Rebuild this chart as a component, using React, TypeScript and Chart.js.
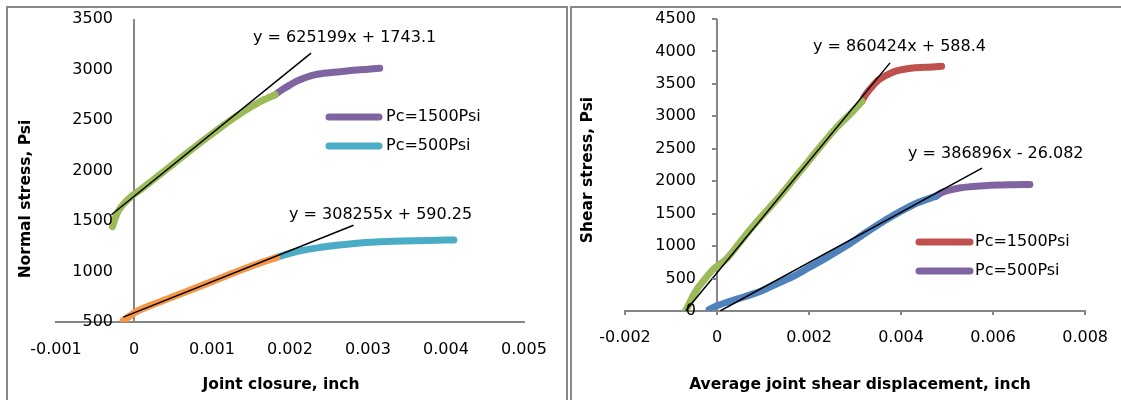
import { useEffect, useRef } from "react";
import { Chart, registerables } from "chart.js";

Chart.register(...registerables);

// ---------- Left chart: Normal stress vs joint closure ----------
const closureTicks = [-0.001, 0, 0.001, 0.002, 0.003, 0.004, 0.005];
const closureTickLabels = ["-0.001", "0", "0.001", "0.002", "0.003", "0.004", "0.005"];
const normalTicks = [500, 1000, 1500, 2000, 2500, 3000, 3500];
const normalTickLabels = ["500", "1000", "1500", "2000", "2500", "3000", "3500"];

const normal1500FitX = [-0.000276, -0.00024, -0.0002, -0.00012, -0.00003, 0.0001, 0.0003, 0.0005, 0.0007, 0.0009, 0.0011, 0.0013, 0.0015, 0.0016, 0.0017, 0.00181];
const normal1500FitY = [1444, 1530, 1600, 1680, 1745, 1820, 1940, 2062, 2185, 2305, 2420, 2530, 2630, 2675, 2712, 2750];
const normal1500PlateauX = [0.00181, 0.0019, 0.002, 0.0021, 0.00221, 0.0023, 0.00243, 0.00255, 0.00264, 0.00275, 0.00286, 0.003, 0.00315];
const normal1500PlateauY = [2750, 2800, 2847, 2890, 2923, 2945, 2962, 2972, 2978, 2987, 2995, 3003, 3012];

const normal500FitX = [-0.000138, -0.00006, 0, 0.0003, 0.0006, 0.0009, 0.0012, 0.0015, 0.00183];
const normal500FitY = [515, 555, 590, 690, 780, 870, 962, 1052, 1140];
const normal500PlateauX = [0.00183, 0.002, 0.00213, 0.0024, 0.0026, 0.00286, 0.0031, 0.00332, 0.0036, 0.00378, 0.0041];
const normal500PlateauY = [1140, 1180, 1205, 1240, 1260, 1280, 1292, 1299, 1305, 1308, 1312];

const normalTrend1500X = [-0.00029, 0.00227];
const normalTrend1500Y = [1562, 3162];
const normalTrend500X = [-0.000137, 0.002815];
const normalTrend500Y = [548, 1458];

const normalEquations = ["y = 625199x + 1743.1", "y = 308255x + 590.25"];
const normalLegend = ["Pc=1500Psi", "Pc=500Psi"];

// ---------- Right chart: Shear stress vs shear displacement ----------
const shearDispTicks = [-0.002, 0, 0.002, 0.004, 0.006, 0.008];
const shearDispTickLabels = ["-0.002", "0", "0.002", "0.004", "0.006", "0.008"];
const shearTicks = [0, 500, 1000, 1500, 2000, 2500, 3000, 3500, 4000, 4500];
const shearTickLabels = ["0", "500", "1000", "1500", "2000", "2500", "3000", "3500", "4000", "4500"];

const shear1500FitX = [-0.00068, -0.00062, -0.00053, -0.00042, -0.0003, -0.0001, 0.0002, 0.0005, 0.0008, 0.0011, 0.0014, 0.0017, 0.002, 0.0023, 0.0026, 0.0029, 0.00315];
const shear1500FitY = [10, 90, 220, 350, 460, 630, 800, 1060, 1320, 1560, 1800, 2060, 2320, 2580, 2830, 3040, 3230];
const shear1500PlateauX = [0.00315, 0.0032, 0.0033, 0.0034, 0.0035, 0.0037, 0.0039, 0.0041, 0.0043, 0.0045, 0.0047, 0.00488];
const shear1500PlateauY = [3230, 3300, 3400, 3480, 3555, 3640, 3700, 3730, 3750, 3755, 3760, 3770];

const shear500FitX = [-0.00017, 0, 0.00026, 0.0006, 0.001, 0.0013, 0.0017, 0.002, 0.0024, 0.0028, 0.0032, 0.0035, 0.0039, 0.0043, 0.00476];
const shear500FitY = [25, 80, 145, 220, 320, 420, 550, 670, 830, 1000, 1190, 1330, 1500, 1650, 1770];
const shear500PlateauX = [0.00476, 0.0049, 0.0051, 0.0053, 0.0055, 0.0058, 0.0061, 0.0064, 0.0068];
const shear500PlateauY = [1770, 1830, 1870, 1900, 1915, 1930, 1940, 1945, 1950];

const shearTrend1500X = [-0.00068, 0.00376];
const shearTrend1500Y = [3, 3824];
const shearTrend500X = [0.0000674, 0.00576];
const shearTrend500Y = [0, 2202];

const shearEquations = ["y = 860424x + 588.4", "y = 386896x - 26.082"];
const shearLegend = ["Pc=1500Psi", "Pc=500Psi"];

// ---------- styles ----------
const FONT = "'DejaVu Sans', 'Liberation Sans', sans-serif";
const AXIS_GRAY = "#868686";
const BORDER_GRAY = "#898989";
const GREEN = "#9BBB59";
const PURPLE = "#8064A2";
const ORANGE = "#F79646";
const TEAL = "#4BACC6";
const RED = "#C0504D";
const BLUE = "#4F81BD";

const pts = (xs: number[], ys: number[]) => xs.map((x, i) => ({ x, y: ys[i] }));

function curve(xs: number[], ys: number[], color: string, order: number) {
  return {
    data: pts(xs, ys),
    borderColor: color,
    backgroundColor: color,
    borderWidth: 7,
    borderCapStyle: "round",
    borderJoinStyle: "round",
    cubicInterpolationMode: "monotone",
    showLine: true,
    pointRadius: 0,
    order,
  };
}

function trend(xs: number[], ys: number[]) {
  return {
    data: pts(xs, ys),
    borderColor: "#000000",
    backgroundColor: "#000000",
    borderWidth: 1.5,
    showLine: true,
    pointRadius: 0,
    order: 0,
  };
}

type Panel = {
  canvasLeft: number;
  width: number;
  area: { left: number; right: number; top: number; bottom: number };
  xMin: number; xMax: number; yMin: number; yMax: number;
  xTicks: number[]; xTickLabels: string[];
  yTicks: number[]; yTickLabels: string[];
  xTickMarks: boolean; yTickMarks: boolean; xLabelPad: number;
  xTitle: string; xTitleX: number; xTitleY: number;
  yTitle: string; yTitleX: number; yTitleY: number;
  datasets: any[];
  legend: { label: string; color: string; y: number }[];
  legendX1: number; legendX2: number; legendTextX: number;
  equations: { text: string; x: number; y: number }[];
};

const leftPanel: Panel = {
  canvasLeft: 0,
  width: 566,
  area: { left: 56, right: 524, top: 19, bottom: 322 },
  xMin: -0.001, xMax: 0.005, yMin: 500, yMax: 3500,
  xTicks: closureTicks, xTickLabels: closureTickLabels,
  yTicks: normalTicks, yTickLabels: normalTickLabels,
  xTickMarks: false, yTickMarks: false, xLabelPad: 18,
  xTitle: "Joint closure, inch", xTitleX: 281, xTitleY: 385,
  yTitle: "Normal stress, Psi", yTitleX: 26, yTitleY: 199,
  datasets: [
    trend(normalTrend1500X, normalTrend1500Y),
    trend(normalTrend500X, normalTrend500Y),
    curve(normal1500FitX, normal1500FitY, GREEN, 1),
    curve(normal500FitX, normal500FitY, ORANGE, 1),
    curve(normal1500PlateauX, normal1500PlateauY, PURPLE, 2),
    curve(normal500PlateauX, normal500PlateauY, TEAL, 2),
  ],
  legend: [
    { label: normalLegend[0], color: PURPLE, y: 117 },
    { label: normalLegend[1], color: TEAL, y: 146 },
  ],
  legendX1: 329, legendX2: 379, legendTextX: 386,
  equations: [
    { text: normalEquations[0], x: 253, y: 38 },
    { text: normalEquations[1], x: 289, y: 215 },
  ],
};

const rightPanel: Panel = {
  canvasLeft: 570,
  width: 551,
  area: { left: 625, right: 1090, top: 19, bottom: 311 },
  xMin: -0.002, xMax: 0.008, yMin: 0, yMax: 4500,
  xTicks: shearDispTicks, xTickLabels: shearDispTickLabels,
  yTicks: shearTicks, yTickLabels: shearTickLabels,
  xTickMarks: true, yTickMarks: true, xLabelPad: 13,
  xTitle: "Average joint shear displacement, inch", xTitleX: 860, xTitleY: 385,
  yTitle: "Shear stress, Psi", yTitleX: 588, yTitleY: 170,
  datasets: [
    trend(shearTrend1500X, shearTrend1500Y),
    trend(shearTrend500X, shearTrend500Y),
    curve(shear1500FitX, shear1500FitY, GREEN, 1),
    curve(shear500FitX, shear500FitY, BLUE, 1),
    curve(shear1500PlateauX, shear1500PlateauY, RED, 2),
    curve(shear500PlateauX, shear500PlateauY, PURPLE, 2),
  ],
  legend: [
    { label: shearLegend[0], color: RED, y: 242 },
    { label: shearLegend[1], color: PURPLE, y: 271 },
  ],
  legendX1: 919, legendX2: 970, legendTextX: 975,
  equations: [
    { text: shearEquations[0], x: 813, y: 47 },
    { text: shearEquations[1], x: 908, y: 154 },
  ],
};

function overlayPlugin(p: Panel) {
  return {
    id: "overlay",
    afterDraw(chart: any) {
      const ctx = chart.ctx as CanvasRenderingContext2D;
      const xs = chart.scales.x;
      const ys = chart.scales.y;
      const off = p.canvasLeft;
      const x0 = xs.getPixelForValue(0);
      ctx.save();
      // y tick marks
      if (p.yTickMarks) {
        ctx.strokeStyle = AXIS_GRAY;
        ctx.lineWidth = 2;
        p.yTicks.forEach((v) => {
          const y = Math.round(ys.getPixelForValue(v));
          ctx.beginPath();
          ctx.moveTo(x0 - 5, y);
          ctx.lineTo(x0, y);
          ctx.stroke();
        });
      }
      // y tick labels next to the vertical axis at x = 0
      ctx.fillStyle = "#000";
      ctx.font = `16px ${FONT}`;
      ctx.textAlign = "right";
      ctx.textBaseline = "middle";
      p.yTicks.forEach((v, i) => {
        ctx.fillText(p.yTickLabels[i], x0 - 21, ys.getPixelForValue(v));
      });
      // legend
      p.legend.forEach((l) => {
        ctx.strokeStyle = l.color;
        ctx.lineWidth = 7;
        ctx.lineCap = "round";
        ctx.beginPath();
        ctx.moveTo(p.legendX1 - off, l.y);
        ctx.lineTo(p.legendX2 - off, l.y);
        ctx.stroke();
        ctx.fillStyle = "#000";
        ctx.textAlign = "left";
        ctx.textBaseline = "middle";
        ctx.font = `16px ${FONT}`;
        ctx.fillText(l.label, p.legendTextX - off, l.y);
      });
      // trendline equations
      ctx.textAlign = "left";
      ctx.textBaseline = "middle";
      ctx.font = `16px ${FONT}`;
      p.equations.forEach((e) => ctx.fillText(e.text, e.x - off, e.y));
      // axis titles
      ctx.font = `bold 15.5px ${FONT}`;
      ctx.textAlign = "center";
      ctx.fillText(p.xTitle, p.xTitleX - off, p.xTitleY);
      ctx.translate(p.yTitleX - off, p.yTitleY);
      ctx.rotate(-Math.PI / 2);
      ctx.fillText(p.yTitle, 0, 0);
      ctx.restore();
    },
  };
}

function buildConfig(p: Panel): any {
  const a = p.area;
  return {
    type: "scatter",
    data: { datasets: p.datasets },
    options: {
      animation: false,
      responsive: false,
      devicePixelRatio: 1,
      events: [],
      layout: {
        padding: {
          left: a.left - p.canvasLeft,
          right: p.canvasLeft + p.width - a.right,
          top: a.top,
          bottom: 0,
        },
      },
      plugins: { legend: { display: false }, tooltip: { enabled: false }, title: { display: false } },
      scales: {
        x: {
          type: "linear",
          position: "bottom",
          min: p.xMin,
          max: p.xMax,
          afterBuildTicks: (s: any) => {
            s.ticks = p.xTicks.map((v) => ({ value: v }));
          },
          afterFit: (s: any) => {
            s.height = 400 - a.bottom;
          },
          grid: {
            display: true,
            drawOnChartArea: true,
            color: (c: any) => (c.tick && c.tick.value === 0 ? AXIS_GRAY : "rgba(0,0,0,0)"),
            lineWidth: 2,
            drawTicks: p.xTickMarks,
            tickLength: 4,
            tickColor: AXIS_GRAY,
            tickWidth: 2,
          },
          border: { display: true, color: AXIS_GRAY, width: 2 },
          ticks: {
            autoSkip: false,
            maxRotation: 0,
            minRotation: 0,
            padding: p.xLabelPad,
            color: "#000",
            font: { family: FONT, size: 16 },
            callback: (_v: any, i: number) => p.xTickLabels[i],
          },
        },
        y: {
          type: "linear",
          display: false,
          min: p.yMin,
          max: p.yMax,
        },
      },
    },
    plugins: [overlayPlugin(p)],
  };
}

function ChartPanel({ panel }: { panel: Panel }) {
  const ref = useRef<HTMLCanvasElement>(null);
  useEffect(() => {
    if (!ref.current) return;
    const chart = new Chart(ref.current, buildConfig(panel));
    return () => chart.destroy();
  }, [panel]);
  return (
    <canvas
      ref={ref}
      width={panel.width}
      height={400}
      style={{ position: "absolute", left: panel.canvasLeft, top: 0, width: panel.width, height: 400 }}
    />
  );
}

export default function App() {
  const border = `2px solid ${BORDER_GRAY}`;
  return (
    <div
      style={{
        position: "absolute",
        left: 0,
        top: 0,
        width: 1121,
        height: 400,
        overflow: "hidden",
        background: "#ffffff",
      }}
    >
      <div
        style={{
          position: "absolute",
          left: 6,
          top: 6,
          width: 558,
          height: 420,
          borderLeft: border,
          borderTop: border,
          borderRight: border,
        }}
      />
      <div
        style={{
          position: "absolute",
          left: 570,
          top: 6,
          width: 600,
          height: 420,
          borderLeft: border,
          borderTop: border,
        }}
      />
      <ChartPanel panel={leftPanel} />
      <ChartPanel panel={rightPanel} />
    </div>
  );
}
